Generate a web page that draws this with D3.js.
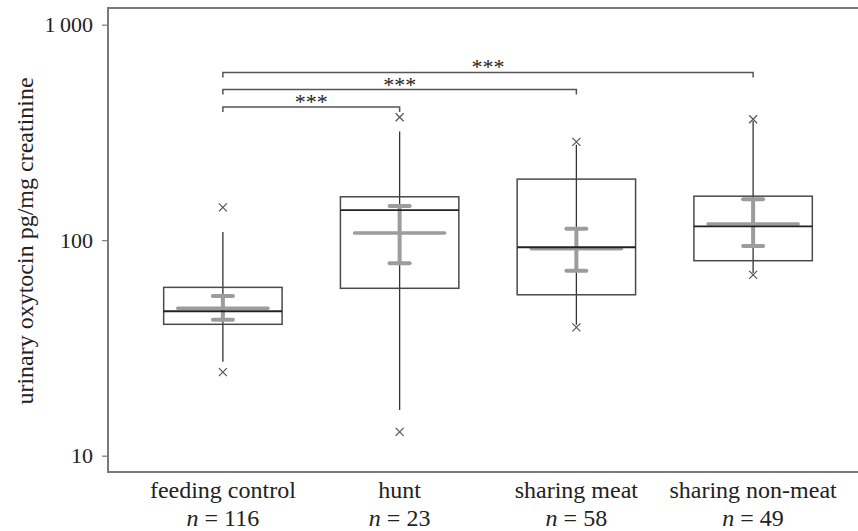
<!DOCTYPE html>
<html>
<head>
<meta charset="utf-8">
<script src="https://cdn.jsdelivr.net/npm/d3@7"></script>
<style>
  body { margin: 0; background: #fff; }
  svg { display: block; }
  text { font-family: "Liberation Serif", "Times New Roman", serif; fill: #222; }
</style>
</head>
<body>
<div id="chart"></div>
<script>
// group names and sample sizes
var groups = ["feeding control", "hunt", "sharing meat", "sharing non-meat"];
var counts = [116, 23, 58, 49];

// box plot values (pg/mg creatinine)
var whiskerLow = [27.3, 16.3, 40.5, 70.5];
var q1 = [40.7, 59.8, 55.8, 80.3];
var medians = [46.8, 138, 92.7, 116];
var q3 = [60.4, 159, 192, 160];
var whiskerHigh = [109, 319, 277, 357];
var outlierLow = [24.4, 12.9, 39.4, 69];
var outlierHigh = [142, 372, 286, 364];

// means with confidence intervals (grey)
var means = [48.3, 108, 91.3, 119];
var ciLow = [42.7, 78.2, 72.1, 94];
var ciHigh = [55.1, 144, 113, 155];

// significance brackets, all from feeding control
var bracketTargets = ["hunt", "sharing meat", "sharing non-meat"];
var bracketLevels = [415, 500, 600];
var bracketLabels = ["***", "***", "***"];

var yTicks = [10, 100, 1000];
var yTickLabels = ["10", "100", "1\u2009000"];

var W = 858, H = 531;
var margin = { top: 8, right: -10, bottom: 59, left: 108 };
var width = W - margin.left - margin.right,
  height = H - margin.top - margin.bottom;

var svg = d3.select("#chart")
  .append("svg")
  .attr("width", W)
  .attr("height", H)
  .append("g")
  .attr("transform", "translate(" + margin.left + "," + margin.top + ")");

// scales
var x = d3.scalePoint()
  .domain(groups)
  .range([0, width])
  .padding(0.65);
var step = x.step();

var y = d3.scaleLog()
  .domain([8.4, 1195])
  .range([height, 0]);

var boxW = step * 0.67,
  meanW = step * 0.51,
  capW = 20;

// frame (right side runs off the picture)
var frameColor = "#7a7a7a";
svg.append("path")
  .attr("d", "M" + (width + 5) + ",0H0V" + height + "H" + (width + 5))
  .attr("fill", "none")
  .attr("stroke", frameColor)
  .attr("stroke-width", 2);

// y axis
var yAxis = svg.append("g")
  .call(d3.axisLeft(y)
    .tickValues(yTicks)
    .tickFormat(function(d, i) { return yTickLabels[i]; })
    .tickSize(6)
    .tickPadding(9));
yAxis.select(".domain").remove();
yAxis.selectAll("line").attr("stroke", frameColor).attr("stroke-width", 1.2);
yAxis.selectAll("text")
  .style("font-family", '"Liberation Serif", serif')
  .style("font-size", "22px")
  .attr("fill", "#222");

// y label
svg.append("text")
  .attr("transform", "translate(" + (25 - margin.left) + "," + (height / 2 + 1) + ")rotate(-90)")
  .attr("text-anchor", "middle")
  .attr("dy", "0.35em")
  .style("font-size", "24px")
  .text("urinary oxytocin pg/mg creatinine");

// x labels with n
var xl = svg.selectAll(".xlab")
  .data(groups)
  .enter()
  .append("text")
  .attr("class", "xlab")
  .attr("text-anchor", "middle")
  .attr("x", function(d) { return x(d); })
  .attr("y", height + 26)
  .style("font-size", "24px");
xl.append("tspan")
  .text(function(d) { return d; });
var nl = xl.append("tspan")
  .attr("x", function(d) { return x(d); })
  .attr("dy", 28);
nl.append("tspan").style("font-style", "italic").text("n");
nl.append("tspan").text(function(d, i) { return " = " + counts[i]; });

// boxes
var g = svg.selectAll(".grp")
  .data(groups)
  .enter()
  .append("g")
  .attr("class", "grp")
  .attr("transform", function(d) { return "translate(" + x(d) + ",0)"; });

// whisker
g.append("line")
  .attr("y1", function(d, i) { return y(whiskerLow[i]); })
  .attr("y2", function(d, i) { return y(whiskerHigh[i]); })
  .attr("stroke", "#333")
  .attr("stroke-width", 1.3);

g.append("rect")
  .attr("x", -boxW / 2)
  .attr("width", boxW)
  .attr("y", function(d, i) { return y(q3[i]); })
  .attr("height", function(d, i) { return y(q1[i]) - y(q3[i]); })
  .attr("fill", "none")
  .attr("stroke", "#4a4a4a")
  .attr("stroke-width", 1.5);

// mean and CI in grey
var grey = "#9c9c9c";
g.append("line")
  .attr("y1", function(d, i) { return y(ciLow[i]); })
  .attr("y2", function(d, i) { return y(ciHigh[i]); })
  .attr("stroke", grey)
  .attr("stroke-width", 4);
[ciLow, ciHigh].forEach(function(arr) {
  g.append("line")
    .attr("x1", -capW / 2)
    .attr("x2", capW / 2)
    .attr("y1", function(d, i) { return y(arr[i]); })
    .attr("y2", function(d, i) { return y(arr[i]); })
    .attr("stroke", grey)
    .attr("stroke-width", 4)
    .attr("stroke-linecap", "round");
});
g.append("line")
  .attr("x1", -meanW / 2)
  .attr("x2", meanW / 2)
  .attr("y1", function(d, i) { return y(means[i]); })
  .attr("y2", function(d, i) { return y(means[i]); })
  .attr("stroke", grey)
  .attr("stroke-width", 3.5)
  .attr("stroke-linecap", "round");

// median
g.append("line")
  .attr("x1", -boxW / 2)
  .attr("x2", boxW / 2)
  .attr("y1", function(d, i) { return y(medians[i]); })
  .attr("y2", function(d, i) { return y(medians[i]); })
  .attr("stroke", "#222")
  .attr("stroke-width", 1.8);

// outliers as crosses
[outlierLow, outlierHigh].forEach(function(arr) {
  g.append("path")
    .attr("transform", function(d, i) { return "translate(0," + y(arr[i]) + ")"; })
    .attr("d", "M-4,-4L4,4M-4,4L4,-4")
    .attr("stroke", "#555")
    .attr("stroke-width", 1.2);
});

// significance brackets
bracketTargets.forEach(function(t, i) {
  var x0 = x(groups[0]), x1 = x(t), by = y(bracketLevels[i]);
  svg.append("path")
    .attr("d", "M" + x0 + "," + (by + 5) + "V" + by + "H" + x1 + "V" + (by + 5))
    .attr("fill", "none")
    .attr("stroke", "#555")
    .attr("stroke-width", 1.5);
  svg.append("text")
    .attr("x", (x0 + x1) / 2)
    .attr("y", by + 2)
    .attr("text-anchor", "middle")
    .style("font-size", "22px")
    .attr("fill", "#555")
    .text(bracketLabels[i]);
});
</script>
</body>
</html>
